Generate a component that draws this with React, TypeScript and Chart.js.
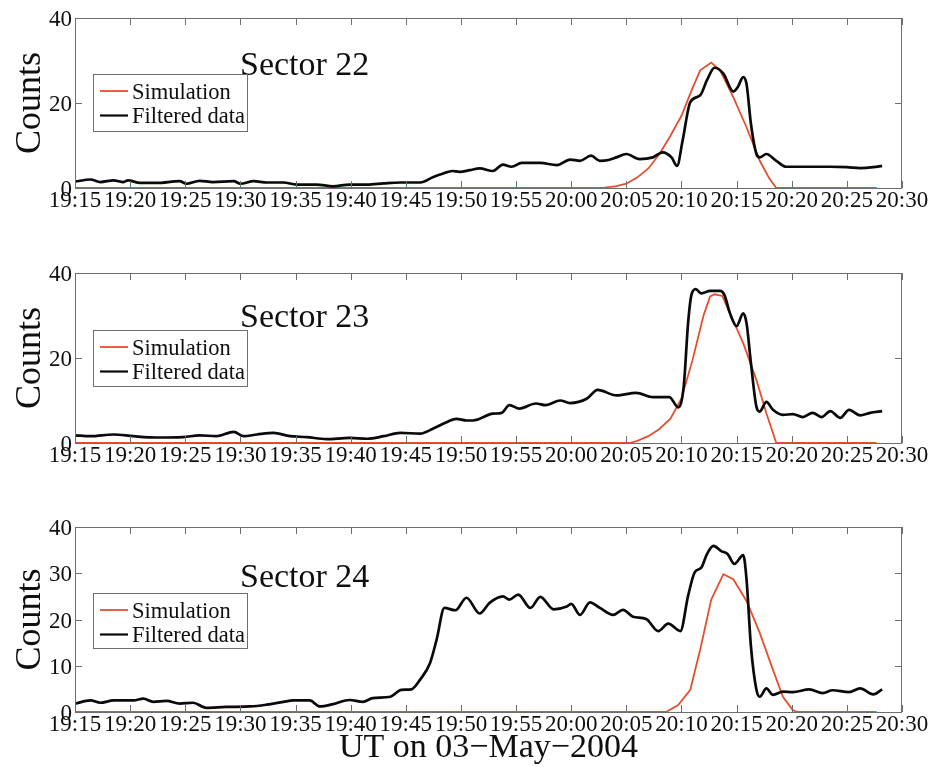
import React, { useEffect, useRef } from 'react';
import { Chart, registerables } from 'chart.js';

Chart.register(...registerables);

// ---------- data ----------
const X_TICK_MINUTES = [0, 5, 10, 15, 20, 25, 30, 35, 40, 45, 50, 55, 60, 65, 70, 75];
const X_TICK_LABELS = ['19:15', '19:20', '19:25', '19:30', '19:35', '19:40', '19:45', '19:50', '19:55', '20:00', '20:05', '20:10', '20:15', '20:20', '20:25', '20:30'];
const X_TITLE = 'UT on 03\u2212May\u22122004';
const Y_TITLE = 'Counts';
const SERIES_LABELS = ['Simulation', 'Filtered data'];
const PANEL_TITLES = ['Sector 22', 'Sector 23', 'Sector 24'];

const Y_TICKS_22 = [0, 20, 40];
const Y_TICKS_23 = [0, 20, 40];
const Y_TICKS_24 = [0, 10, 20, 30, 40];

// [minutes after 19:15, counts]
const SECTOR22_FILTERED: [number, number][] = [
  [0, 1.5], [1.4, 2.0], [2.3, 1.4], [3.5, 1.8], [4.4, 1.4], [4.8, 1.8], [5.9, 1.2], [7.4, 1.2], [9.5, 1.6], [10.1, 1.0],
  [11.3, 1.7], [12.5, 1.4], [14.4, 1.6], [15.0, 1.0], [16.2, 1.6], [17.4, 1.3], [18.9, 1.3], [20.1, 0.8], [21.9, 0.8],
  [23.4, 0.4], [24.9, 0.8], [26.5, 0.8], [28.0, 1.1], [29.5, 1.3], [31.3, 1.3], [32.5, 2.6], [33.4, 3.4], [34.2, 4.0],
  [34.9, 3.8], [35.8, 4.2], [36.7, 4.6], [37.9, 4.0], [38.8, 5.5], [39.6, 5.0], [40.5, 5.9], [42.2, 5.9], [43.7, 5.4],
  [44.9, 6.7], [45.8, 6.4], [46.8, 7.6], [47.6, 6.4], [48.4, 6.6], [49.1, 7.2], [50.0, 8.0], [51.2, 6.8], [52.4, 7.2],
  [53.3, 8.4], [54.1, 7.2], [54.6, 5.2], [55.1, 11.1], [55.8, 20.2], [56.7, 21.8], [57.3, 25.3], [58.0, 28.3], [58.8, 26.9],
  [59.7, 22.7], [60.1, 23.7], [60.6, 26.1], [60.9, 24.5], [61.3, 15.1], [61.8, 8.0], [62.1, 7.2], [62.7, 8.0], [63.6, 6.4],
  [64.5, 5.0], [65.7, 5.0], [67.0, 5.0], [68.5, 5.0], [70.0, 4.9], [71.2, 4.7], [72.4, 4.9], [73.2, 5.2],
];
const SECTOR22_SIMULATION: [number, number][] = [
  [0, 0], [47, 0], [48, 0.1], [49, 0.4], [50, 1.0], [51, 2.5], [52, 4.6], [53, 8.0], [54, 12.3], [55, 17.0], [56, 23.5],
  [56.7, 27.7], [57.7, 29.5], [58.5, 27.7], [59.7, 21.4], [60.9, 14.3], [62.1, 6.4], [63.0, 2.1], [63.6, 0], [72.7, 0],
];

const SECTOR23_FILTERED: [number, number][] = [
  [0, 1.8], [1.4, 1.6], [3.5, 2.0], [5.3, 1.6], [7.4, 1.3], [9.8, 1.4], [11.3, 1.8], [12.8, 1.6], [14.4, 2.6], [15.3, 1.6],
  [16.5, 2.0], [18.0, 2.4], [19.5, 1.6], [21.0, 1.4], [22.8, 0.9], [24.9, 1.2], [26.5, 1.0], [28.0, 1.6], [29.5, 2.4],
  [31.3, 2.2], [32.5, 3.4], [33.7, 4.9], [34.6, 5.7], [35.5, 5.3], [36.1, 5.3], [37.9, 6.9], [38.7, 7.1], [39.4, 8.9],
  [40.3, 8.1], [41.8, 9.3], [42.7, 8.9], [44.0, 10.0], [44.9, 9.4], [46.4, 10.4], [47.4, 12.5], [49.1, 11.2], [50.9, 11.8],
  [52.4, 10.8], [53.9, 10.8], [54.7, 8.4], [55.2, 13.2], [55.6, 28.2], [55.9, 34.8], [56.3, 36.2], [56.8, 35.2], [57.6, 35.8],
  [58.5, 35.8], [58.9, 34.8], [59.4, 30.5], [60.0, 27.5], [60.6, 30.5], [60.9, 28.2], [61.3, 18.8], [61.8, 8.5], [62.1, 7.4],
  [62.7, 9.7], [63.3, 7.8], [64.2, 6.6], [65.1, 6.8], [66.0, 6.1], [66.9, 7.1], [67.7, 6.1], [68.5, 7.5], [69.4, 5.9],
  [70.2, 7.8], [71.2, 6.5], [72.1, 7.1], [73.2, 7.5],
];
const SECTOR23_SIMULATION: [number, number][] = [
  [0, 0], [50.3, 0], [51, 0.5], [52, 1.6], [53, 3.3], [54, 5.7], [55, 10.5], [56, 19.5], [57, 30.0], [57.6, 34.5],
  [58.0, 35.0], [58.7, 34.6], [59.4, 30.5], [60.6, 23.5], [61.8, 14.8], [62.7, 7.0], [63.6, 0], [72.7, 0],
];

const SECTOR24_FILTERED: [number, number][] = [
  [0, 1.8], [1.4, 2.5], [2.3, 2.0], [3.5, 2.5], [5.3, 2.5], [6.2, 2.9], [7.1, 2.2], [8.3, 2.4], [9.5, 1.8], [10.7, 2.0],
  [11.9, 0.9], [13.7, 1.1], [15.9, 1.2], [17.4, 1.6], [18.9, 2.2], [19.8, 2.5], [21.3, 2.5], [22.2, 1.2], [23.4, 1.7],
  [24.9, 2.6], [26.1, 2.2], [27.0, 3.0], [28.6, 3.3], [29.6, 4.8], [30.5, 4.9], [31.3, 7.0], [32.2, 10.6], [32.8, 15.7],
  [33.5, 22.5], [34.5, 22.0], [35.5, 24.7], [36.7, 21.3], [37.6, 23.6], [38.8, 25.0], [39.4, 24.3], [40.2, 25.4],
  [41.3, 22.5], [42.2, 24.9], [43.4, 22.2], [44.6, 22.8], [45.0, 23.4], [45.8, 21.0], [46.7, 23.7], [47.6, 22.5],
  [48.8, 21.0], [49.7, 22.1], [50.6, 20.6], [51.8, 20.1], [52.9, 17.5], [53.8, 19.1], [54.9, 17.5], [55.6, 25.1],
  [56.2, 30.2], [56.8, 31.2], [57.3, 34.1], [57.9, 35.9], [58.6, 34.8], [59.2, 34.1], [59.8, 32.0], [60.6, 33.9],
  [60.9, 28.7], [61.3, 14.2], [61.8, 4.8], [62.1, 3.3], [62.7, 5.1], [63.3, 3.7], [64.2, 4.4], [65.1, 4.3], [66.6, 4.9],
  [67.8, 4.1], [68.7, 4.7], [70.2, 4.3], [71.2, 5.1], [72.4, 3.8], [73.2, 4.9],
];
const SECTOR24_SIMULATION: [number, number][] = [
  [0, 0], [53.6, 0], [54.7, 1.5], [55.8, 4.8], [56.7, 13.5], [57.7, 24.3], [58.8, 29.8], [59.7, 28.7], [60.9, 24.0],
  [62.1, 17.1], [63.3, 9.1], [64.2, 3.3], [65.1, 0.4], [65.5, 0], [72.7, 0],
];

// ---------- styling / layout ----------
const FONT = "'Liberation Serif', 'Times New Roman', Times, serif";
const TEXT = '#0f0f0f';
const AXIS = '#6e6e6e';
const RED = '#e4502f';
const BLACK = '#0a0a0a';
const PAD_TOP = 15;
const PAD_RIGHT = 26;
const Y_AXIS_W = 75;

type PanelCfg = {
  title: string;
  filtered: [number, number][];
  simulation: [number, number][];
  yTicks: number[];
  plotTop: number;
  plotBottom: number;
  xAxisH: number;
  showXTitle: boolean;
  titleDy: number;
  legendDy: number;
  legendH: number;
};

const PANELS: PanelCfg[] = [
  { title: PANEL_TITLES[0], filtered: SECTOR22_FILTERED, simulation: SECTOR22_SIMULATION, yTicks: Y_TICKS_22,
    plotTop: 18, plotBottom: 188, xAxisH: 40, showXTitle: false, titleDy: 57, legendDy: 56, legendH: 57 },
  { title: PANEL_TITLES[1], filtered: SECTOR23_FILTERED, simulation: SECTOR23_SIMULATION, yTicks: Y_TICKS_23,
    plotTop: 273, plotBottom: 443, xAxisH: 40, showXTitle: false, titleDy: 54, legendDy: 57, legendH: 56 },
  { title: PANEL_TITLES[2], filtered: SECTOR24_FILTERED, simulation: SECTOR24_SIMULATION, yTicks: Y_TICKS_24,
    plotTop: 527, plotBottom: 712, xAxisH: 55, showXTitle: true, titleDy: 60, legendDy: 66, legendH: 55 },
];

const toPoints = (arr: [number, number][]) => arr.map(([x, y]) => ({ x, y }));

const matlabAxes = {
  id: 'matlabAxes',
  afterDatasetsDraw(chart: any, _args: any, opts: any) {
    const { ctx, chartArea: a } = chart;
    const xs = chart.scales.x;
    const ys = chart.scales.y;
    ctx.save();
    ctx.strokeStyle = AXIS;
    ctx.lineWidth = 1;
    ctx.strokeRect(a.left + 0.5, a.top + 0.5, a.right - a.left - 1, a.bottom - a.top);
    const L = 7;
    ctx.beginPath();
    xs.ticks.forEach((t: any) => {
      const px = Math.round(xs.getPixelForValue(t.value)) + 0.5;
      ctx.moveTo(px, a.bottom);
      ctx.lineTo(px, a.bottom - L);
      ctx.moveTo(px, a.top);
      ctx.lineTo(px, a.top + L);
    });
    ys.ticks.forEach((t: any) => {
      const py = Math.round(ys.getPixelForValue(t.value)) + 0.5;
      ctx.moveTo(a.left, py);
      ctx.lineTo(a.left + L, py);
      ctx.moveTo(a.right, py);
      ctx.lineTo(a.right - L, py);
    });
    ctx.stroke();

    // sector title
    ctx.fillStyle = TEXT;
    ctx.font = `34px ${FONT}`;
    ctx.textAlign = 'left';
    ctx.textBaseline = 'alphabetic';
    ctx.fillText(opts.title, a.left + 165, a.top + opts.titleDy);

    // legend box
    const lx = a.left + 18;
    const ly = a.top + opts.legendDy;
    const lw = 154;
    const lh = opts.legendH;
    ctx.fillStyle = '#ffffff';
    ctx.fillRect(lx, ly, lw, lh);
    ctx.strokeStyle = AXIS;
    ctx.lineWidth = 1;
    ctx.strokeRect(lx + 0.5, ly + 0.5, lw, lh);
    const items = opts.items as { label: string; color: string; width: number }[];
    ctx.font = `22.5px ${FONT}`;
    items.forEach((it, i) => {
      const yLine = ly + 17 + i * 24.5;
      ctx.strokeStyle = it.color;
      ctx.lineWidth = it.width;
      ctx.beginPath();
      ctx.moveTo(lx + 7, yLine);
      ctx.lineTo(lx + 35, yLine);
      ctx.stroke();
      ctx.fillStyle = TEXT;
      ctx.fillText(it.label, lx + 39, yLine + 7.5);
    });
    ctx.restore();
  },
};

function buildConfig(p: PanelCfg): any {
  return {
    type: 'line',
    data: {
      datasets: [
        {
          label: SERIES_LABELS[1],
          data: toPoints(p.filtered),
          borderColor: BLACK,
          borderWidth: 2.7,
          pointRadius: 0,
          cubicInterpolationMode: 'monotone',
          fill: false,
        },
        {
          label: SERIES_LABELS[0],
          data: toPoints(p.simulation),
          borderColor: RED,
          borderWidth: 1.8,
          pointRadius: 0,
          tension: 0,
          fill: false,
        },
      ],
    },
    options: {
      responsive: false,
      animation: false,
      devicePixelRatio: 1,
      layout: { padding: { top: PAD_TOP, right: PAD_RIGHT, left: 0, bottom: 0 } },
      plugins: {
        legend: { display: false },
        tooltip: { enabled: false },
        matlabAxes: {
          title: p.title,
          titleDy: p.titleDy,
          legendDy: p.legendDy,
          legendH: p.legendH,
          items: [
            { label: SERIES_LABELS[0], color: RED, width: 1.8 },
            { label: SERIES_LABELS[1], color: BLACK, width: 2.2 },
          ],
        },
      },
      scales: {
        x: {
          type: 'linear',
          min: 0,
          max: 75,
          afterBuildTicks: (s: any) => {
            s.ticks = X_TICK_MINUTES.map((v) => ({ value: v }));
          },
          afterFit: (s: any) => {
            s.height = p.xAxisH;
            s.paddingLeft = 0;
            s.paddingRight = 0;
          },
          grid: { display: false, drawTicks: false },
          border: { display: false },
          ticks: {
            autoSkip: false,
            maxRotation: 0,
            minRotation: 0,
            padding: 1,
            color: TEXT,
            font: { family: FONT, size: 23, lineHeight: 1 },
            callback: (_v: any, i: number) => X_TICK_LABELS[i],
          },
          title: {
            display: p.showXTitle,
            text: X_TITLE,
            color: TEXT,
            font: { family: FONT, size: 34, lineHeight: 1 },
            padding: { top: 0, bottom: 1.5 },
          },
        },
        y: {
          type: 'linear',
          min: 0,
          max: 40,
          afterBuildTicks: (s: any) => {
            s.ticks = p.yTicks.map((v) => ({ value: v }));
          },
          afterFit: (s: any) => {
            s.width = Y_AXIS_W;
            s.paddingTop = 0;
            s.paddingBottom = 0;
          },
          grid: { display: false, drawTicks: false },
          border: { display: false },
          ticks: {
            padding: 3,
            labelOffset: 2,
            color: TEXT,
            font: { family: FONT, size: 23, lineHeight: 1 },
          },
          title: {
            display: true,
            text: Y_TITLE,
            color: TEXT,
            font: { family: FONT, size: 36, lineHeight: 1.2 },
            padding: { top: 9, bottom: 0 },
          },
        },
      },
    },
    plugins: [matlabAxes],
  };
}

function Panel({ cfg }: { cfg: PanelCfg }) {
  const ref = useRef<HTMLCanvasElement>(null);
  const canvasH = PAD_TOP + (cfg.plotBottom - cfg.plotTop) + cfg.xAxisH;
  useEffect(() => {
    if (!ref.current) return;
    const chart = new Chart(ref.current, buildConfig(cfg));
    return () => chart.destroy();
  }, [cfg]);
  return (
    <canvas
      ref={ref}
      width={928}
      height={canvasH}
      style={{ position: 'absolute', left: 0, top: cfg.plotTop - PAD_TOP, width: 928, height: canvasH, display: 'block' }}
    />
  );
}

export default function App() {
  return (
    <div style={{ position: 'absolute', left: 0, top: 0, width: 928, height: 767, background: '#ffffff', overflow: 'hidden' }}>
      {PANELS.map((p) => (
        <Panel key={p.title} cfg={p} />
      ))}
    </div>
  );
}
